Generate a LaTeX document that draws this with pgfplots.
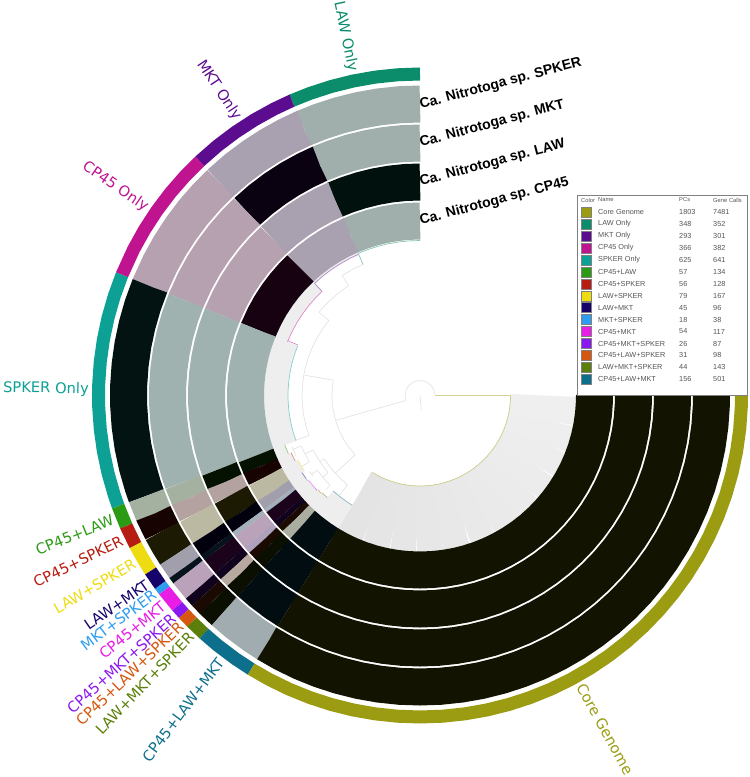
\documentclass[border=0pt]{standalone}
\usepackage{pgfplots}
\usepackage{pgfplotstable}
\usepackage{fontspec}
\pgfplotsset{compat=1.18}
\setmainfont{DejaVu Sans}
\newfontfamily\arialf{Liberation Sans}
\definecolor{gbase}{HTML}{B4B4B4}
\newcommand\catcol[2]{\definecolor{#1}{HTML}{#2}\colorlet{#1a}{#1!12!gbase}\colorlet{#1p}{#1!12!black}}
\catcol{cCore}{9B9C12}
\catcol{cL}{0B8D6C}
\catcol{cM}{5C0D8F}
\catcol{cC}{BF1390}
\catcol{cS}{0DA196}
\catcol{cCL}{2B9A14}
\catcol{cCS}{B71C12}
\catcol{cLS}{EDDC12}
\catcol{cLM}{16046B}
\catcol{cMS}{2E9DF0}
\catcol{cCM}{E81DE6}
\catcol{cCMS}{8A19EF}
\catcol{cCLS}{D6570F}
\catcol{cLMS}{5B7F0A}
\catcol{cCLM}{0E6F8C}
\definecolor{den}{HTML}{E4E2E4}
\definecolor{band}{HTML}{EEEEEE}
\definecolor{legtxt}{HTML}{555555}
% sector spans in degrees (proportional to the PC counts); second column is a unit radius
\pgfplotstableread[row sep=\\]{t u\\90 1\\90.05 1\\94 1\\98 1\\102 1\\106 1\\110 1\\113.45 1\\113.48 1\\}\TL
\pgfplotstableread[row sep=\\]{t u\\113.48 1\\113.51 1\\117 1\\121 1\\125 1\\129 1\\133.22 1\\133.25 1\\}\TM
\pgfplotstableread[row sep=\\]{t u\\133.25 1\\133.28 1\\137 1\\141 1\\145 1\\149 1\\153 1\\157.92 1\\157.95 1\\}\TC
\pgfplotstableread[row sep=\\]{t u\\157.95 1\\157.98 1\\162 1\\166 1\\170 1\\174 1\\178 1\\182 1\\186 1\\190 1\\194 1\\198 1\\200.1 1\\200.13 1\\}\TS
\pgfplotstableread[row sep=\\]{t u\\200.13 1\\200.16 1\\203.94 1\\203.97 1\\}\TCL
\pgfplotstableread[row sep=\\]{t u\\203.97 1\\204 1\\207.72 1\\207.75 1\\}\TCS
\pgfplotstableread[row sep=\\]{t u\\207.75 1\\207.78 1\\210.4 1\\213.05 1\\213.08 1\\}\TLS
\pgfplotstableread[row sep=\\]{t u\\213.08 1\\213.11 1\\216.09 1\\216.12 1\\}\TLM
\pgfplotstableread[row sep=\\]{t u\\216.12 1\\216.15 1\\217.3 1\\217.33 1\\}\TMS
\pgfplotstableread[row sep=\\]{t u\\217.33 1\\217.36 1\\220.95 1\\220.98 1\\}\TCM
\pgfplotstableread[row sep=\\]{t u\\220.98 1\\221.01 1\\222.7 1\\222.73 1\\}\TCMS
\pgfplotstableread[row sep=\\]{t u\\222.73 1\\222.76 1\\224.79 1\\224.82 1\\}\TCLS
\pgfplotstableread[row sep=\\]{t u\\224.82 1\\224.85 1\\227.76 1\\227.79 1\\}\TLMS
\pgfplotstableread[row sep=\\]{t u\\227.79 1\\227.82 1\\231 1\\235 1\\238.29 1\\238.32 1\\}\TCLM
\pgfplotstableread[row sep=\\]{t u\\238.32 1\\238.35 1\\242 1\\246 1\\250 1\\254 1\\258 1\\262 1\\266 1\\270 1\\274 1\\278 1\\282 1\\286 1\\290 1\\294 1\\298 1\\302 1\\306 1\\310 1\\314 1\\318 1\\322 1\\326 1\\330 1\\334 1\\338 1\\342 1\\346 1\\350 1\\354 1\\358 1\\359.97 1\\360 1\\}\TCore
\newcommand\seg[4]{\addplot[draw=#3,line width=#4pt,forget plot,data cs=polar,no markers] table[x=t,y expr=#2]{#1};}
% table, colour, rings SPKER MKT LAW CP45 (a absent / p present), inner radius of pale band
\newcommand\sect[7]{%
  \seg{#1}{321.5}{#2}{13}%
  \seg{#1}{291.5}{#2#3}{37}%
  \seg{#1}{252.5}{#2#4}{37}%
  \seg{#1}{213.5}{#2#5}{37}%
  \seg{#1}{174.5}{#2#6}{37}%
  \seg{#1}{#7}{#2!50!white}{0.7}}
\newcommand\pale[3]{\seg{#1}{#2}{band}{#3}}
% one slice of the pale core wedge: grey level, angles
\newcommand\cw[6]{\addplot[draw={rgb,255:red,#1;green,#1;blue,#1},line width=65.5pt,forget plot,data cs=polar,no markers] coordinates {(#2,123.25)(#3,123.25)(#4,123.25)(#5,123.25)(#6,123.25)};}
\newcommand\lab[3]{\path (axis cs:0,0) ++(#1:331pt) node[anchor=east,rotate=#1-180,inner sep=0pt,text=#2,font=\fontsize{14.7}{15}\selectfont] {#3};}
\newcommand\nam[2]{\node[anchor=base west,rotate=15,inner sep=0pt,font=\arialf\bfseries\fontsize{14}{14}\selectfont] at (axis cs:1,#1) {Ca. Nitrotoga sp. #2};}
\newcommand\lrow[5]{%
  \addplot[only marks,mark=square*,mark size=5pt,mark options={fill=#2,draw=gray,line width=0.3pt},forget plot] coordinates {(166,#1)};
  \node[anchor=west,inner sep=0pt,text=legtxt,font=\arialf\fontsize{7.3}{7.3}\selectfont] at (axis cs:178,#1) {#3};
  \node[anchor=west,inner sep=0pt,text=legtxt,font=\arialf\fontsize{7.3}{7.3}\selectfont] at (axis cs:259,#1) {#4};
  \node[anchor=west,inner sep=0pt,text=legtxt,font=\arialf\fontsize{7.3}{7.3}\selectfont] at (axis cs:293,#1) {#5};}
\newcommand\dn[1]{\addplot[draw=den,line width=0.7pt,forget plot,data cs=polar,no markers] coordinates {#1};}
\begin{document}
\begin{tikzpicture}
\useasboundingbox (0,0) rectangle (750pt,777pt);
\begin{axis}[hide axis,scale only axis,x=1pt,y=1pt,xmin=-420,xmax=330,ymin=-381.5,ymax=395.5,clip=false]
% pale bands between the dendrogram and the rings
\cw{228}{238.32}{238.35}{243.5}{248.97}{249}
\cw{229}{248.5}{248.53}{253.5}{258.97}{259}
\cw{230}{258.5}{258.53}{263.5}{268.97}{269}
\cw{231}{268.5}{268.53}{273.5}{278.97}{279}
\cw{232}{278.5}{278.53}{283.5}{288.97}{289}
\cw{233}{288.5}{288.53}{293.5}{298.97}{299}
\cw{234}{298.5}{298.53}{303.5}{308.97}{309}
\cw{235}{308.5}{308.53}{313.5}{318.97}{319}
\cw{236}{318.5}{318.53}{323.5}{328.97}{329}
\cw{237}{328.5}{328.53}{333.5}{338.97}{339}
\cw{238}{338.5}{338.53}{343.5}{348.97}{349}
\cw{239}{348.5}{348.53}{354}{359.97}{360}
\pale{\TS}{144}{24}
\pale{\TC}{149.5}{13}
\pale{\TM}{155}{2}
\pale{\TCL}{150}{12}
\pale{\TCS}{148.5}{15}
\pale{\TLS}{147}{18}
\pale{\TLM}{148.5}{15}
\pale{\TMS}{148.5}{15}
\pale{\TCM}{148}{16}
\pale{\TCMS}{148}{16}
\pale{\TCLS}{147.5}{17}
\pale{\TLMS}{147}{18}
\pale{\TCLM}{142.5}{27}
% sectors
\sect{\TL}{cL}{a}{a}{p}{a}{155}
\sect{\TM}{cM}{a}{p}{a}{a}{154}
\sect{\TC}{cC}{a}{a}{a}{p}{143}
\sect{\TS}{cS}{p}{a}{a}{a}{132}
\sect{\TCL}{cCL}{a}{a}{p}{p}{144}
\sect{\TCS}{cCS}{p}{a}{a}{p}{141}
\sect{\TLS}{cLS}{p}{a}{p}{a}{138}
\sect{\TLM}{cLM}{a}{p}{p}{a}{141}
\sect{\TMS}{cMS}{p}{p}{a}{a}{141}
\sect{\TCM}{cCM}{a}{p}{a}{p}{140}
\sect{\TCMS}{cCMS}{p}{p}{a}{p}{140}
\sect{\TCLS}{cCLS}{p}{a}{p}{p}{139}
\sect{\TLMS}{cLMS}{p}{p}{p}{a}{138}
\sect{\TCLM}{cCLM}{a}{p}{p}{p}{129}
\sect{\TCore}{cCore}{p}{p}{p}{p}{90.5}
% dendrogram
\dn{(0,15)(20,15)(40,15)(60,15)(80,15)(100,15)(120,15)(140,15)(160,15)(180,15)(199.6,15)}
\dn{(275,0)(275,15)}
\dn{(199.6,15)(196.4,88)}
\dn{(170,88)(175,88)(180,88)(185,88)(190,88)(195,88)(200,88)(205,88)(210,88)(215,88)(222.5,88)}
\dn{(170,88)(170,117)}
\dn{(140.5,118)(145,118)(150,118)(155,118)(160,118)(165,118)(170,118)(175,118)(180,118)(185,118)(190,118)(195,118)(199.8,118)}
\dn{(199.8,118)(199.8,132)}
\dn{(140.5,118)(140.5,131)}
\dn{(123,131)(128,131)(133,131)(138,131)(140.5,131)}
\dn{(123,131)(123,143)}
\dn{(113.4,143)(118,143)(123,143)}
\dn{(222.5,88)(222.5,115)}
\dn{(213.4,115)(218,115)(222,115)(226,115)(231,115)}
\dn{(231,115)(231,129)}
\dn{(213.4,115)(213.4,120)}
\dn{(207,120)(212,120)(216,120)(220,120)}
\dn{(220,120)(220,127)}
\dn{(216,127)(220,127)(225,127)}
\dn{(225,127)(225,133)}
\dn{(216,127)(216,134)}
\dn{(214.5,134)(217,134)}
\dn{(207,120)(207,129)}
\dn{(203,129)(207,129)(211,129)}
\dn{(211,129)(211,138)}
\dn{(203,129)(203,138)}
\dn{(202,138)(206,138)}
% tips coloured by category
\addplot[draw=cCore!45!white,line width=0.7pt,forget plot,data cs=polar,no markers] coordinates {(0,15)(0,90.5)};
\addplot[draw=cC!50!white,line width=0.7pt,forget plot,data cs=polar,no markers] coordinates {(157.5,132)(157.5,143)};
\addplot[draw=cM!50!white,line width=0.7pt,forget plot,data cs=polar,no markers] coordinates {(133.25,143)(133.25,154)};
\addplot[draw=cL!50!white,line width=0.7pt,forget plot,data cs=polar,no markers] coordinates {(113.48,143)(113.48,155)};
% category labels
\lab{101.74}{cL}{LAW Only}
\lab{123.4}{cM}{MKT Only}
\lab{145.6}{cC}{CP45 Only}
\lab{179}{cS}{SPKER Only}
\lab{202}{cCL}{CP45+LAW}
\lab{205.9}{cCS}{CP45+SPKER}
\lab{210.4}{cLS}{LAW+SPKER}
\lab{214.6}{cLM}{LAW+MKT}
\lab{216.7}{cMS}{MKT+SPKER}
\lab{219.2}{cCM}{CP45+MKT}
\lab{221.9}{cCMS}{CP45+MKT+SPKER}
\lab{223.8}{cCLS}{CP45+LAW+SPKER}
\lab{226.3}{cLMS}{LAW+MKT+SPKER}
\lab{233}{cCLM}{CP45+LAW+MKT}
\path (axis cs:0,0) ++(299:331pt) node[anchor=west,rotate=299,inner sep=0pt,text=cCore,font=\fontsize{14.7}{15}\selectfont] {Core Genome};
% genome names
\nam{286.5}{SPKER}
\nam{248.8}{MKT}
\nam{209.5}{LAW}
\nam{170.5}{CP45}
% legend box
\draw[draw=gray,fill=white,line width=0.8pt] (axis cs:157,200.5) rectangle (axis cs:327,0.5);
\node[anchor=west,inner sep=0pt,text=legtxt,font=\arialf\fontsize{5.8}{5.8}\selectfont] at (axis cs:161,195.5) {Color};
\node[anchor=west,inner sep=0pt,text=legtxt,font=\arialf\fontsize{5.8}{5.8}\selectfont] at (axis cs:178,195.5) {Name};
\node[anchor=west,inner sep=0pt,text=legtxt,font=\arialf\fontsize{5.8}{5.8}\selectfont] at (axis cs:259,195.5) {PCs};
\node[anchor=west,inner sep=0pt,text=legtxt,font=\arialf\fontsize{5.8}{5.8}\selectfont] at (axis cs:293,195.5) {Gene Calls};
\lrow{183.5}{cCore}{Core Genome}{1803}{7481}
\lrow{171.5}{cL}{LAW Only}{348}{352}
\lrow{159.6}{cM}{MKT Only}{293}{301}
\lrow{147.6}{cC}{CP45 Only}{366}{382}
\lrow{135.7}{cS}{SPKER Only}{625}{641}
\lrow{123.7}{cCL}{CP45+LAW}{57}{134}
\lrow{111.8}{cCS}{CP45+SPKER}{56}{128}
\lrow{99.8}{cLS}{LAW+SPKER}{79}{167}
\lrow{87.9}{cLM}{LAW+MKT}{45}{96}
\lrow{75.9}{cMS}{MKT+SPKER}{18}{38}
\lrow{64}{cCM}{CP45+MKT}{54}{117}
\lrow{52}{cCMS}{CP45+MKT+SPKER}{26}{87}
\lrow{40.1}{cCLS}{CP45+LAW+SPKER}{31}{98}
\lrow{28.1}{cLMS}{LAW+MKT+SPKER}{44}{143}
\lrow{16.2}{cCLM}{CP45+LAW+MKT}{156}{501}
\end{axis}
\end{tikzpicture}
\end{document}
